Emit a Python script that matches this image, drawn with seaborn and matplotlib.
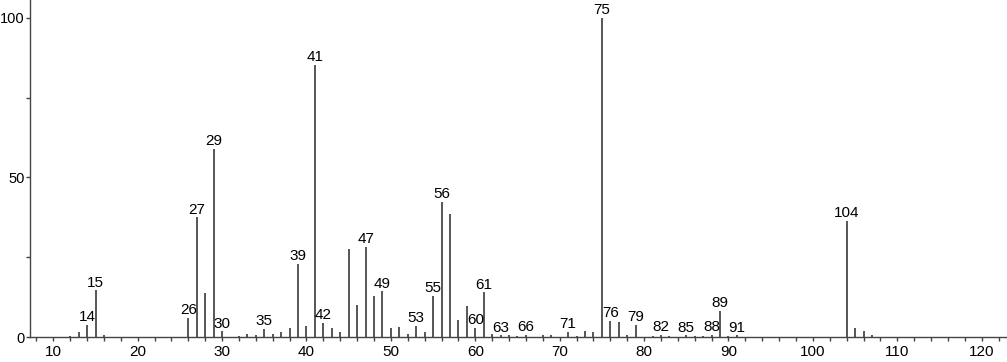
import numpy as np
import pandas as pd
import seaborn as sns
import matplotlib.pyplot as plt
from matplotlib.ticker import MultipleLocator

# Peak list (m/z, relative intensity)
mz = [12, 13, 14, 15, 16, 26, 27, 28, 29, 30, 32, 33, 34, 35, 36, 37, 38, 39, 40,
      41, 42, 43, 44, 45, 46, 47, 48, 49, 50, 51, 52, 53, 54, 55, 56, 57, 58, 59,
      60, 61, 62, 63, 64, 65, 66, 68, 69, 71, 72, 73, 74, 75, 76, 77, 78, 79, 81,
      82, 83, 85, 86, 87, 88, 89, 90, 91, 104, 105, 106, 107]
intensity = [0.4, 1.5, 3.8, 14.6, 0.6, 6.1, 37.5, 13.9, 59.0, 1.8, 0.4, 0.8, 0.5,
             2.5, 0.8, 1.5, 2.8, 23.0, 3.4, 85.3, 4.4, 2.8, 1.5, 27.5, 10.0, 28.2,
             13.0, 14.3, 2.8, 3.2, 1.0, 3.5, 1.5, 12.9, 42.4, 38.5, 5.3, 9.8, 2.8,
             14.0, 1.0, 0.5, 0.5, 0.4, 0.6, 0.5, 0.5, 1.7, 0.4, 1.8, 1.5, 100.0,
             5.0, 4.7, 0.5, 3.8, 0.4, 0.6, 0.4, 0.5, 0.4, 0.4, 0.6, 8.3, 0.4, 0.5,
             36.4, 2.8, 2.0, 0.5]
labeled = [14, 15, 26, 27, 29, 30, 35, 39, 41, 42, 47, 49, 53, 55, 56, 60, 61, 63,
           66, 71, 75, 76, 79, 82, 85, 88, 89, 91, 104]

df = pd.DataFrame({"mz": mz, "intensity": intensity})

sns.set_theme(style="ticks")
plt.rcParams['font.family'] = ['Liberation Sans', 'DejaVu Sans']

fig = plt.figure(figsize=(10.07, 3.62), dpi=100)
ax = fig.add_axes([0.0298, 0.069, 0.9702, 0.931])

ax.vlines(df["mz"], 0, df["intensity"], color="#3a3a3a", linewidth=1.2)

for m in labeled:
    h = df.loc[df["mz"] == m, "intensity"].iloc[0]
    ax.annotate(str(m), (m, h), xytext=(0, 0.5), textcoords="offset points",
                ha="center", va="bottom", fontsize=11, color="black")

ax.set_xlim(7.24, 123)
ax.set_ylim(0, 105.6)
ax.xaxis.set_major_locator(MultipleLocator(10))
ax.xaxis.set_minor_locator(MultipleLocator(2))
ax.yaxis.set_major_locator(MultipleLocator(50))
ax.yaxis.set_minor_locator(MultipleLocator(25))
ax.tick_params(axis="both", which="major", direction="out", length=3, width=1,
               color="#444", labelcolor="black")
ax.tick_params(axis="both", which="minor", direction="out", length=3, width=1,
               color="#444")
ax.tick_params(axis="x", which="major", labelsize=11, pad=2.5)
ax.tick_params(axis="y", which="major", labelsize=10.5, pad=0.8)
sns.despine(ax=ax)
for s in ["left", "bottom"]:
    ax.spines[s].set_color("#444")
    ax.spines[s].set_linewidth(1)

fig.savefig("out.png", dpi=100)
